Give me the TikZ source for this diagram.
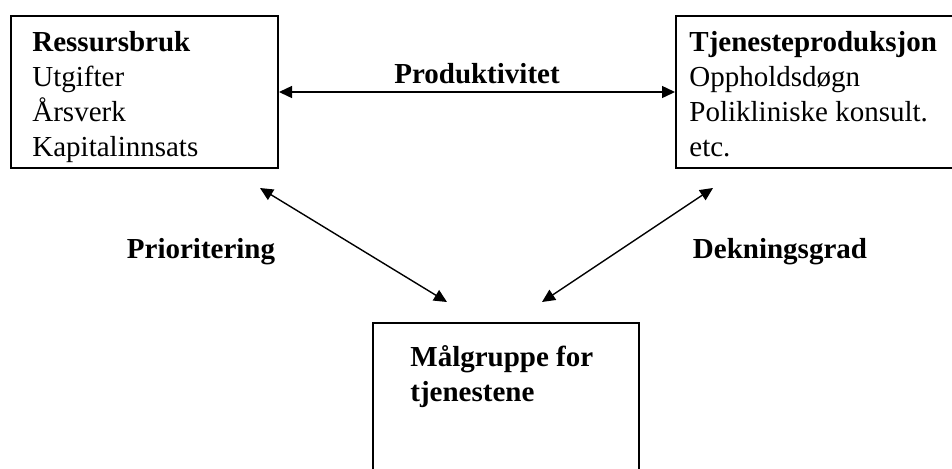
\documentclass[tikz,border=0pt]{standalone}
\usepackage{fontspec}
\setmainfont{Liberation Serif}
\usetikzlibrary{arrows.meta}

\begin{document}
\begin{tikzpicture}[x=0.5pt,y=-0.5pt,
	boks/.style={draw,line width=1pt,inner sep=0pt,anchor=north west},
	tekst/.style={anchor=north west,inner sep=0pt,align=left,font=\fontsize{14.5pt}{17.5pt}\selectfont},
	etikett/.style={anchor=base,inner sep=0pt,font=\fontsize{14.5pt}{17.5pt}\selectfont\bfseries},
	pil/.style={{Triangle[length=6.5pt,width=6pt]}-{Triangle[length=6.5pt,width=6pt]},line width=0.7pt}]
	\useasboundingbox (0,0) rectangle (952,468);
	\node[boks,minimum width=133.5pt,minimum height=76pt] (ressurs) at (10,15) {};
	\node[boks,minimum width=145pt,minimum height=76pt] (tjeneste) at (675,15) {};
	\node[boks,minimum width=133pt,minimum height=80pt] (maal) at (372,322) {};
	\node[tekst] (ressurstekst) at (32,31) {\textbf{Ressursbruk}\\Utgifter\\Årsverk\\Kapitalinnsats};
	\node[tekst] (tjenestetekst) at (689,31) {\textbf{Tjenesteproduksjon}\\Oppholdsdøgn\\Polikliniske konsult.\\etc.};
	\node[tekst] (maaltekst) at (410,345) {\textbf{Målgruppe for}\\\textbf{tjenestene}};
	\draw[pil] (ressurs.east) -- (tjeneste.west);
	\node[etikett] (produktivitet) at (477,83) {Produktivitet};
	\coordinate (p1) at (260,188);
	\coordinate (p2) at (447,302);
	\coordinate (d1) at (713,188);
	\coordinate (d2) at (542,302);
	\draw[pil] (p1) -- (p2);
	\draw[pil] (d1) -- (d2);
	\node[etikett] (prioritering) at (201,258) {Prioritering};
	\node[etikett] (dekningsgrad) at (780,258) {Dekningsgrad};
\end{tikzpicture}
\end{document}
